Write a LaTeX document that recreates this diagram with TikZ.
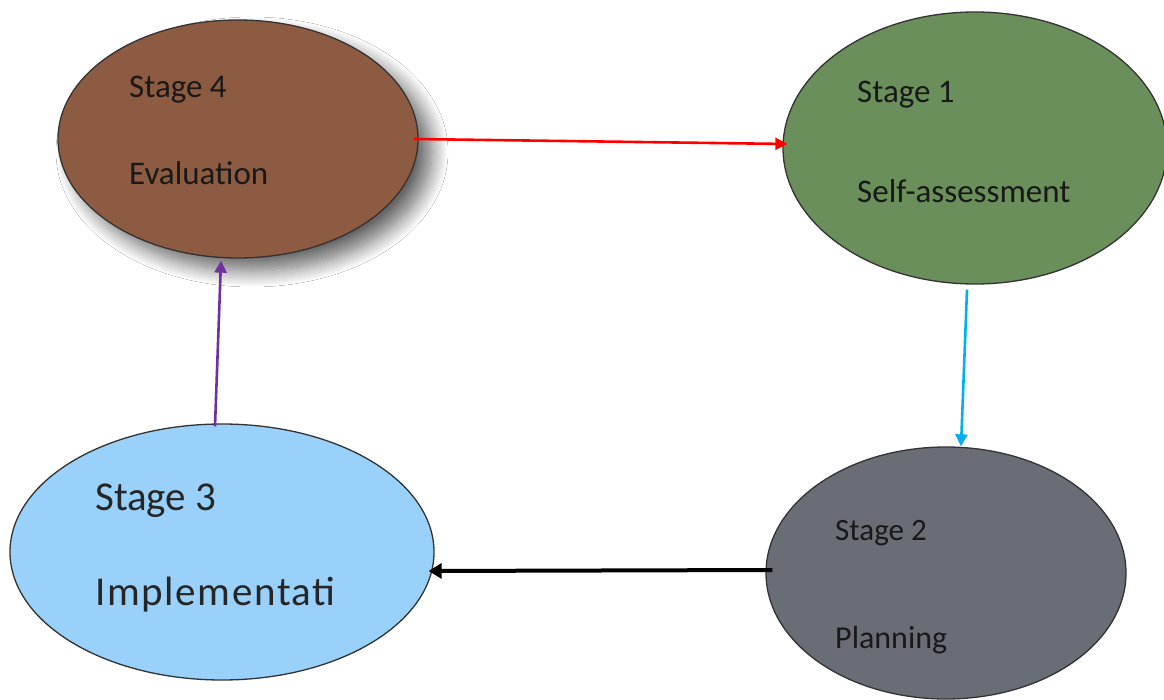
\documentclass[tikz,border=0pt]{standalone}
\usepackage{fontspec}
\setmainfont{Carlito}
\usetikzlibrary{shapes.geometric,arrows.meta,shadows.blur}
\definecolor{cbrown}{RGB}{141,91,66}
\definecolor{cgreen}{RGB}{106,143,90}
\definecolor{cgray}{RGB}{104,109,118}
\definecolor{cblue}{RGB}{153,209,250}
\definecolor{ccyan}{RGB}{0,176,240}
\definecolor{cpurple}{RGB}{112,48,160}
\definecolor{cred}{RGB}{255,0,0}
\tikzset{
  stagebox/.style={ellipse, draw=black!80, line width=1.3pt, inner sep=0pt},
  lbl/.style={anchor=base west, inner sep=0pt, text=black!90},
  conn/.style={line width=2.6pt, -{Triangle[length=12pt,width=12pt]}},
}
\begin{document}
\begin{tikzpicture}[x=1pt,y=-1pt]
\useasboundingbox (0,0) rectangle (1164,700);
\fill[white] (0,0) rectangle (1164,700);
\node[stagebox, fill=cbrown, minimum width=360pt, minimum height=238pt,
  blur shadow={shadow xshift=14pt, shadow yshift=-13pt, shadow blur radius=16pt, shadow blur steps=16, shadow opacity=60}] (s4) at (238,139) {};
\node[stagebox, fill=cgreen, minimum width=384pt, minimum height=272pt] (s1) at (975,148) {};
\node[stagebox, fill=cblue, minimum width=424pt, minimum height=256pt] (s3) at (222,552) {};
\node[stagebox, fill=cgray, minimum width=360pt, minimum height=252pt] (s2) at (946,573) {};

\node[lbl, font=\fontsize{33}{33}\selectfont] (t4a) at (129,98) {Stage 4};
\node[lbl, font=\fontsize{33}{33}\selectfont] (t4b) at (129,185) {Evaluation};
\node[lbl, font=\fontsize{33}{33}\selectfont] (t1a) at (857,103) {Stage 1};
\node[lbl, font=\fontsize{33}{33}\selectfont] (t1b) at (857,203) {Self-assessment};
\node[lbl, font=\fontsize{41}{41}\selectfont, text=black!85] (t3a) at (95,510) {Stage 3};
\node[lbl, font=\fontsize{41}{41}\selectfont, text=black!85] (t3b) at (95,605) {\addfontfeatures{LetterSpace=4}Implementati};
\node[lbl, font=\fontsize{31}{31}\selectfont] (t2a) at (835,540) {Stage 2};
\node[lbl, font=\fontsize{32}{32}\selectfont] (t2b) at (835,648) {Planning};

\draw[conn, cred] ([xshift=-5pt]s4.east) -- ([xshift=5pt,yshift=4pt]s1.west);
\draw[conn, ccyan] ([xshift=-8pt,yshift=-5pt]s1.south) -- ([xshift=15pt]s2.north);
\draw[conn, black, line width=4pt, -{Triangle[length=13pt,width=15pt]}] ([xshift=7pt,yshift=3pt]s2.west) -- ([xshift=-6pt,yshift=-19pt]s3.east);
\draw[conn, cpurple] ([xshift=-7pt,yshift=-3pt]s3.north) -- ([xshift=-17pt,yshift=-2pt]s4.south);
\end{tikzpicture}
\end{document}
